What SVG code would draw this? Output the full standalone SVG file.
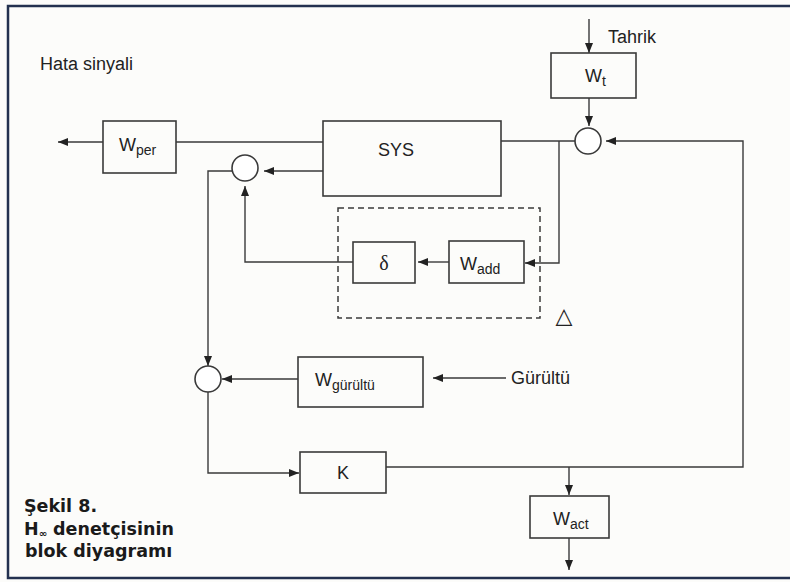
<svg xmlns="http://www.w3.org/2000/svg" width="790" height="582" viewBox="0 0 790 582">
<style>
.box{fill:none;stroke:#3a3a3a;stroke-width:1.6}
.sum{fill:#fff;stroke:#3a3a3a;stroke-width:1.6}
.ln{fill:none;stroke:#3a3a3a;stroke-width:1.4}
.dash{fill:none;stroke:#3a3a3a;stroke-width:1.5;stroke-dasharray:6 4}
.t{font-family:"Liberation Sans",Arial,sans-serif;font-size:18px;fill:#222}
.sub{font-size:14px}
.cap{font-family:"DejaVu Sans","Liberation Sans",sans-serif;font-weight:bold;font-size:17.5px;fill:#1a1a1a}
</style>
<defs>
<marker id="ah" markerUnits="userSpaceOnUse" markerWidth="10" markerHeight="8" refX="10" refY="4" orient="auto">
<path d="M0,0 L10,4 L0,8 z" fill="#222"/>
</marker>
</defs>
<rect width="790" height="582" fill="#fcfcfa"/>
<path d="M790 6 H8 V578 H790" fill="none" stroke="#23314f" stroke-width="2.5"/>

<g id="connectors">
<line class="ln" x1="103" y1="142" x2="58" y2="142" marker-end="url(#ah)"/>
<line class="ln" x1="176" y1="142" x2="323" y2="142"/>
<line class="ln" x1="323" y1="171" x2="264" y2="171" marker-end="url(#ah)"/>
<polyline class="ln" points="232,171 208,171 208,366" marker-end="url(#ah)"/>
<polyline class="ln" points="353,262 245,262 245,186" marker-end="url(#ah)"/>
<line class="ln" x1="449" y1="262" x2="418" y2="262" marker-end="url(#ah)"/>
<line class="ln" x1="501" y1="141" x2="575" y2="141"/>
<polyline class="ln" points="559,141 559,263 525,263" marker-end="url(#ah)"/>
<line class="ln" x1="589" y1="19" x2="589" y2="53" marker-end="url(#ah)"/>
<line class="ln" x1="589" y1="98" x2="589" y2="126" marker-end="url(#ah)"/>
<polyline class="ln" points="386,467 743,467 743,141 606,141" marker-end="url(#ah)"/>
<line class="ln" x1="569" y1="467" x2="569" y2="495" marker-end="url(#ah)"/>
<line class="ln" x1="569" y1="538" x2="569" y2="570" marker-end="url(#ah)"/>
<line class="ln" x1="298" y1="379" x2="222" y2="379" marker-end="url(#ah)"/>
<line class="ln" x1="506" y1="378" x2="433" y2="378" marker-end="url(#ah)"/>
<polyline class="ln" points="208,392 208,473 299,473" marker-end="url(#ah)"/>
</g>

<g id="hata"><text class="t" x="40" y="70">Hata sinyali</text></g>

<g id="wper">
<rect class="box" x="103" y="121" width="73" height="52"/>
<text class="t" x="119" y="151">W<tspan class="sub" dy="4">per</tspan></text>
</g>

<g id="sys">
<rect class="box" x="323" y="121" width="178" height="75"/>
<text class="t" x="378" y="156">SYS</text>
</g>

<g id="sum1"><circle class="sum" cx="245" cy="168" r="13"/></g>
<g id="sum2"><circle class="sum" cx="208" cy="379" r="13"/></g>
<g id="sum3"><circle class="sum" cx="588" cy="141" r="13"/></g>

<g id="delta-block">
<rect class="dash" x="338" y="208" width="202" height="110"/>
<text x="564" y="323" font-family="DejaVu Sans,sans-serif" font-size="22" fill="#222" text-anchor="middle">△</text>
</g>

<g id="delta">
<rect class="box" x="353" y="242" width="62" height="41"/>
<text x="384" y="270" font-family="Liberation Serif,serif" font-size="20" fill="#222" text-anchor="middle">δ</text>
</g>

<g id="wadd">
<rect class="box" x="449" y="241" width="75" height="42"/>
<text class="t" x="460" y="270">W<tspan class="sub" dy="4">add</tspan></text>
</g>

<g id="tahrik"><text class="t" x="608" y="43">Tahrik</text></g>

<g id="wt">
<rect class="box" x="551" y="53" width="85" height="45"/>
<text class="t" x="585" y="82">W<tspan class="sub" dy="4">t</tspan></text>
</g>

<g id="wgurultu">
<rect class="box" x="298" y="357" width="125" height="50"/>
<text class="t" x="315" y="386">W<tspan class="sub" dy="4">gürültü</tspan></text>
</g>

<g id="gurultu"><text class="t" x="511" y="384">Gürültü</text></g>

<g id="k">
<rect class="box" x="300" y="452" width="86" height="41"/>
<text class="t" x="343" y="479" text-anchor="middle">K</text>
</g>

<g id="wact">
<rect class="box" x="530" y="496" width="79" height="42"/>
<text class="t" x="553" y="525">W<tspan class="sub" dy="4">act</tspan></text>
</g>

<g id="caption">
<text class="cap" x="24" y="512">Şekil 8.</text>
<text class="cap" x="24" y="535">H<tspan font-size="10" dy="2">∞</tspan><tspan dy="-2"> denetçisinin</tspan></text>
<text class="cap" x="25" y="557">blok diyagramı</text>
</g>
</svg>
